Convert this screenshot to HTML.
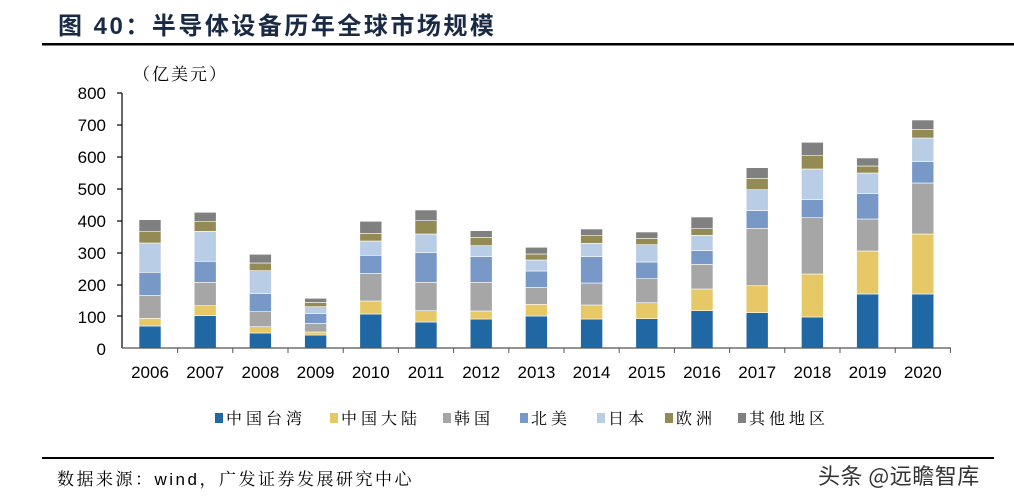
<!DOCTYPE html>
<html><head><meta charset="utf-8"><style>
html,body{margin:0;padding:0;background:#fff;}
svg{display:block;}
</style></head><body>
<svg width="1014" height="502" xmlns="http://www.w3.org/2000/svg">
<text x="58" y="34" font-family="Liberation Sans, Noto Sans CJK SC, sans-serif" font-size="24" font-weight="bold" fill="#1a2a44" letter-spacing="2.5">图 40：半导体设备历年全球市场规模</text>
<rect x="42" y="43" width="972" height="2.5" fill="#000"/>
<text x="133" y="80" font-family="Noto Serif CJK SC, serif" font-size="17" fill="#000" letter-spacing="2">（亿美元）</text>
<g font-family="Liberation Sans, sans-serif" font-size="17" fill="#000" text-anchor="end">
<text x="106" y="99">800</text><text x="106" y="131">700</text><text x="106" y="163">600</text><text x="106" y="195">500</text><text x="106" y="227">400</text><text x="106" y="259">300</text><text x="106" y="291">200</text><text x="106" y="323">100</text><text x="106" y="355">0</text>
</g>
<g stroke="#000" stroke-width="1.2">
<line x1="122" y1="93" x2="122" y2="348"/>
<line x1="117" y1="93" x2="122" y2="93"/><line x1="117" y1="125" x2="122" y2="125"/><line x1="117" y1="157" x2="122" y2="157"/><line x1="117" y1="189" x2="122" y2="189"/><line x1="117" y1="221" x2="122" y2="221"/><line x1="117" y1="253" x2="122" y2="253"/><line x1="117" y1="285" x2="122" y2="285"/><line x1="117" y1="316" x2="122" y2="316"/>
</g>
<g id="bars"></g>
<line x1="122" y1="348" x2="951" y2="348" stroke="#555" stroke-width="1.2"/>
<g id="xt" stroke="#555" stroke-width="1"></g>
<g id="xl" font-family="Liberation Sans, sans-serif" font-size="17" fill="#000" text-anchor="middle"></g>
<g font-family="Noto Serif CJK SC, serif" font-size="16" fill="#000" letter-spacing="4">
<rect x="215" y="413" width="8" height="10" fill="#2068a3"/><text x="226" y="424">中国台湾</text>
<rect x="330" y="413" width="8" height="10" fill="#e6c866"/><text x="341" y="424">中国大陆</text>
<rect x="443" y="413" width="8" height="10" fill="#a6a6a6"/><text x="454" y="424">韩国</text>
<rect x="520" y="413" width="8" height="10" fill="#7899c8"/><text x="531" y="424">北美</text>
<rect x="597" y="413" width="8" height="10" fill="#b9cde6"/><text x="608" y="424">日本</text>
<rect x="665" y="413" width="8" height="10" fill="#948a54"/><text x="676" y="424">欧洲</text>
<rect x="738" y="413" width="8" height="10" fill="#808080"/><text x="749" y="424">其他地区</text>
</g>
<rect x="42" y="457" width="952" height="2" fill="#000"/>
<text x="57" y="485" font-family="Noto Serif CJK SC, serif" font-size="17" fill="#000" letter-spacing="2.5">数据来源：<tspan font-family="Liberation Sans, sans-serif">wind</tspan>，广发证券发展研究中心</text>
<text x="818" y="484" font-family="Noto Sans CJK SC, sans-serif" font-size="22" fill="#333" letter-spacing="0.5">头条 @远瞻智库</text>
<script>
var d=[[326,318.3,295.3,272.3,243,231.7,219.7],[315.7,305.7,282.3,261.3,231.3,221.7,212.3],[333,326.7,311.7,293.7,270.7,263,254.3],[335,332,323.3,313.7,306.7,302.3,298.3],[314,301,273.3,255.3,241,233.3,221.3],[322,310.7,282.3,252.7,234,220.7,210],[319,311,282.3,256.7,245.7,237.3,230.7],[316,304.3,287.3,271,260,254,247.3],[319,305,283,256.7,243.3,235.7,229],[318.7,302.7,278.7,262,244.7,238.3,232],[310.7,289,264.3,250.7,235.3,228.7,217],[312.7,285.7,228.3,210.7,189.7,178.3,167.7],[317,274,217.7,199.7,169,155.7,142.3],[294,251,219,193.7,173,166,158],[294,234,183,161.7,138,129.3,120]];
var c=["#2068a3","#e6c866","#a6a6a6","#7899c8","#b9cde6","#948a54","#808080"];
var ns="http://www.w3.org/2000/svg",b=document.getElementById("bars"),xt=document.getElementById("xt"),xl=document.getElementById("xl");
for(var i=0;i<15;i++){var cx=150+55.2*i,prev=348;
for(var j=0;j<7;j++){var r=document.createElementNS(ns,"rect");r.setAttribute("x",cx-11);r.setAttribute("width",22);r.setAttribute("y",d[i][j]);r.setAttribute("height",prev-d[i][j]);r.setAttribute("fill",c[j]);r.setAttribute("stroke","#fff");r.setAttribute("stroke-width","0.6");b.appendChild(r);prev=d[i][j];}
var t=document.createElementNS(ns,"text");t.setAttribute("x",cx);t.setAttribute("y",378);t.textContent=2006+i;xl.appendChild(t);
var l=document.createElementNS(ns,"line");var lx=cx+27.6;l.setAttribute("x1",lx);l.setAttribute("x2",lx);l.setAttribute("y1",348);l.setAttribute("y2",353);xt.appendChild(l);}
</script>
</svg>
</body></html>
